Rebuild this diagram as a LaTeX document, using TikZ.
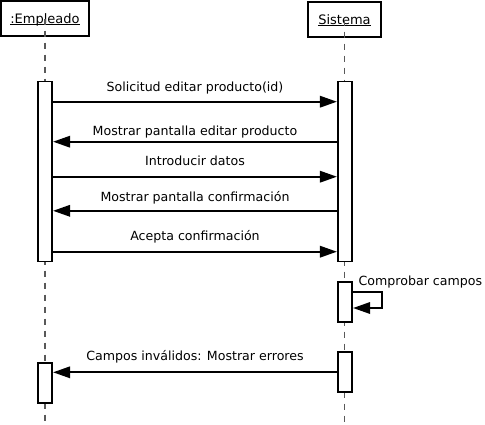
\documentclass[tikz,border=0pt]{standalone}
\usepackage{fontspec}
\setmainfont{DejaVu Sans}
\usetikzlibrary{arrows.meta}
\newcommand\objname[1]{\underline{\smash{#1}}}
\tikzset{
	txt/.style={font=\fontsize{12.6}{14}\selectfont},
	head/.style={draw, line width=1.8pt, font=\fontsize{13}{15}\selectfont, minimum height=35pt, inner sep=0pt, text height=11pt, text depth=1.5pt},
	act/.style={draw, fill=white, line width=1.7pt, minimum width=14.5pt, inner sep=0pt},
	lifeline/.style={draw=black!65, line width=1.2pt, dash pattern=on 6pt off 6pt},
	msg/.style={line width=1.8pt, -{Triangle[length=17pt,width=11.5pt]}},
	lbl/.style={txt, midway, anchor=base, inner sep=0pt}
}

\begin{document}
\begin{tikzpicture}[x=1pt, y=-1pt]
			%%%%% START %%%%%
			\useasboundingbox (0, 0) rectangle (485, 424);
			
			\node[head, minimum width=88pt] (emp) at (45, 18.5) {\objname{:Empleado}};
			\node[head, minimum width=73pt] (sis) at (344.5, 19.5) {\objname{Sistema}};
			
			\draw[lifeline] (emp.center) -- (emp.center |- 0, 424);
			\draw[lifeline] (sis.center) -- (sis.center |- 0, 424);
			
			\node[act, minimum height=180pt] (empA) at (45, 171.5) {};
			\node[act, minimum height=180pt] (sisA) at (345, 171.5) {};
			\node[act, minimum height=40pt] (sisB) at (345, 302) {};
			\node[act, minimum height=40pt] (sisC) at (345, 372) {};
			\node[act, minimum height=40pt] (empB) at (45, 383) {};
			
			\draw[msg] (empA.east |- 0, 101.7) -- (sisA.west |- 0, 101.7)
				node[lbl, yshift=10.7pt] (m1) {Solicitud editar producto(id)};
			\draw[msg] (sisA.west |- 0, 141.7) -- (empA.east |- 0, 141.7)
				node[lbl, yshift=6.7pt] (m2) {Mostrar pantalla editar producto};
			\draw[msg] (empA.east |- 0, 176.7) -- (sisA.west |- 0, 176.7)
				node[lbl, yshift=11pt] (m3) {Introducir datos};
			\draw[msg] (sisA.west |- 0, 210.8) -- (empA.east |- 0, 210.8)
				node[lbl, yshift=9.8pt] (m4) {Mostrar pantalla confirmación};
			\draw[msg] (empA.east |- 0, 251.7) -- (sisA.west |- 0, 251.7)
				node[lbl, yshift=11pt] (m5) {Acepta confirmación};
			
			% self call
			\draw[msg] (sisB.east |- 0, 292) -- ++(29, 0) -- ++(0, 16) -- (sisB.east |- 0, 308);
			\node[txt, anchor=base west, inner sep=0pt] (m6) at (358.5, 285.5) {Comprobar campos};
			
			\draw[msg] (sisC.west |- 0, 372.3) -- (empB.east |- 0, 372.3)
				node[lbl, yshift=11.6pt] (m7) {Campos inválidos: Mostrar errores};
			%%%%% END %%%%%
\end{tikzpicture}
\end{document}
